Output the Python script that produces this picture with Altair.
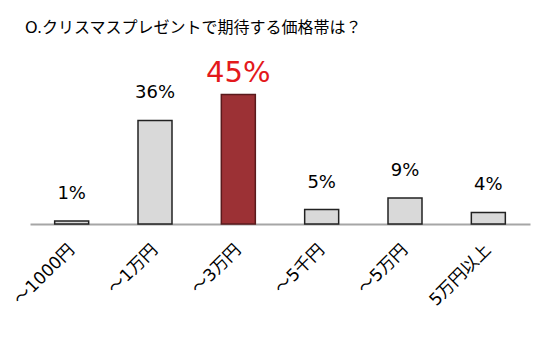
import altair as alt
import pandas as pd

categories = ["～1000円", "～1万円", "～3万円", "～5千円", "～5万円", "5万円以上"]
values = [1, 36, 45, 5, 9, 4]
labels = ["1%", "36%", "45%", "5%", "9%", "4%"]
highlight = [False, False, True, False, False, False]

df = pd.DataFrame({"cat": categories, "value": values, "label": labels, "hl": highlight})

FONT = "DejaVu Sans, Noto Sans CJK JP"

x = alt.X("cat:N", sort=categories, title=None,
          scale=alt.Scale(paddingInner=0, paddingOuter=0),
          axis=alt.Axis(labelAngle=-45, labelAlign="right", labelBaseline="middle",
                        labelFontSize=17, labelColor="#000000", labelFont=FONT,
                        labelPadding=23, ticks=False, domainColor="#a6a6a6",
                        domainWidth=2))
y = alt.Y("value:Q", scale=alt.Scale(domain=[0, 57], nice=False), axis=None)

base = alt.Chart(df)

bars = base.mark_bar(size=34, strokeWidth=1.5).encode(
    x=x, y=y,
    color=alt.condition("datum.hl", alt.value("#9c3135"), alt.value("#d9d9d9")),
    stroke=alt.condition("datum.hl", alt.value("#5a1a1c"), alt.value("#222222")),
)

text_normal = base.transform_filter("!datum.hl").mark_text(
    dy=-27, baseline="middle", fontSize=18, font=FONT, color="#000000"
).encode(x=x, y=y, text="label:N")

text_hl = base.transform_filter("datum.hl").mark_text(
    dy=-22, baseline="middle", fontSize=29, font=FONT, color="#e3191c"
).encode(x=x, y=y, text="label:N")

chart = alt.layer(bars, text_normal, text_hl).properties(
    width=500, height=164,
    background="#ffffff",
    autosize=alt.AutoSizeParams(type="none"),
    padding={"left": 30, "top": 60, "right": 10, "bottom": 129},
    title=alt.Title("O.クリスマスプレゼントで期待する価格帯は？", anchor="start",
                    frame="group",
                    fontSize=16, font=FONT, fontWeight="normal", color="#000000",
                    dx=-5, offset=23),
).configure_view(strokeWidth=0, stroke="transparent")

chart.save("out.html", embed_options={"renderer": "svg", "actions": False})
